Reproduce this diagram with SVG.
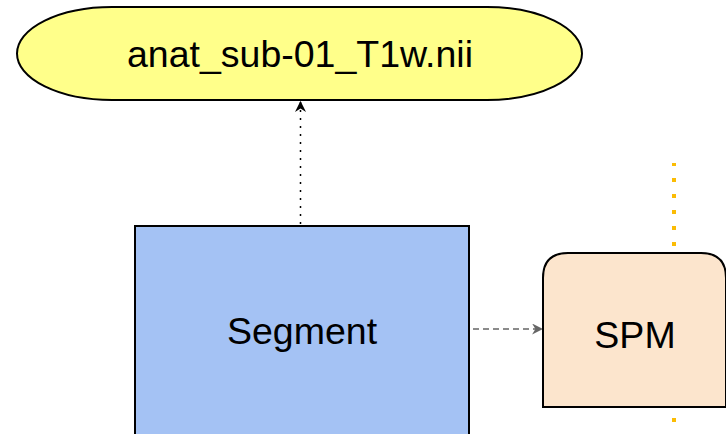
<svg xmlns="http://www.w3.org/2000/svg" width="726" height="434" viewBox="0 0 726 434">
<style>
.lbl{font-family:"Liberation Sans",Arial,sans-serif;font-size:37.5px;fill:#000;text-anchor:middle}
.node{stroke:#000;stroke-width:2}
</style>
<defs>
<marker id="ah" viewBox="0 0 10 10" refX="9" refY="5" markerWidth="11" markerHeight="11" markerUnits="userSpaceOnUse" orient="auto">
<path d="M0,0 L10,5 L0,10 L3,5 Z" fill="#000"/>
</marker>
<marker id="ahg" viewBox="0 0 10 10" refX="9" refY="5" markerWidth="11" markerHeight="11" markerUnits="userSpaceOnUse" orient="auto">
<path d="M0,0 L10,5 L0,10 L3,5 Z" fill="#666"/>
</marker>
</defs>
<rect width="726" height="434" fill="#fff"/>
<g id="connectors">
<line x1="674" y1="163" x2="674" y2="434" stroke="#fbbc04" stroke-width="4" stroke-dasharray="4 12" stroke-dashoffset="1"/>
<line x1="300.5" y1="224" x2="300.5" y2="102" stroke="#000" stroke-width="1.5" stroke-dasharray="2 6" marker-end="url(#ah)"/>
<line x1="473" y1="329" x2="542" y2="329" stroke="#666" stroke-width="1.5" stroke-dasharray="6 4" marker-end="url(#ahg)"/>
</g>
<g id="node-anat">
<rect class="node" x="17" y="7" width="565" height="93" rx="95" ry="46.5" fill="#ffff8a"/>
<text class="lbl" x="300" y="67">anat_sub-01_T1w.nii</text>
</g>
<g id="node-segment">
<rect class="node" x="135" y="226" width="334" height="212" fill="#a4c2f4"/>
<text class="lbl" x="302" y="344">Segment</text>
</g>
<g id="node-spm">
<path class="node" d="M543,407 V278 Q543,253 568,253 H701 Q726,253 726,278 V407 Z" fill="#fce5cd"/>
<text class="lbl" x="635" y="348">SPM</text>
</g>
</svg>
